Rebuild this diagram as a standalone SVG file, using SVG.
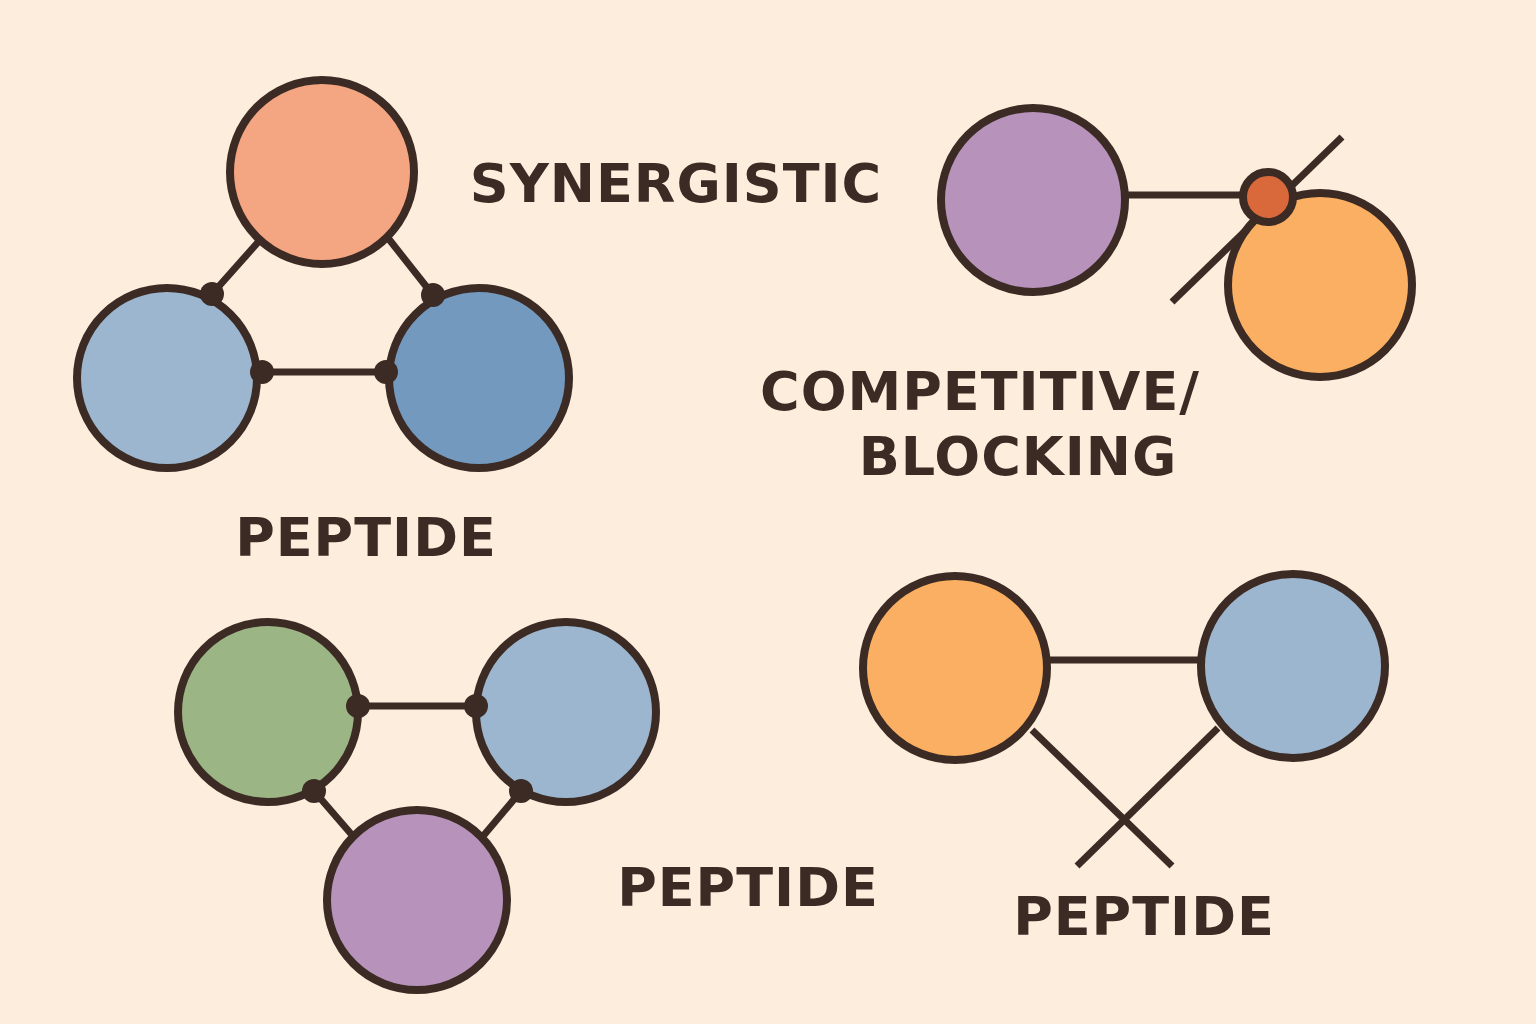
<svg xmlns="http://www.w3.org/2000/svg" width="1536" height="1024" viewBox="0 0 1536 1024">
<style>
.n{stroke:#3B2B24;stroke-width:8}
.c{stroke:#3B2B24;stroke-width:7;fill:none}
.d{fill:#3B2B24}
.t{font-family:"DejaVu Sans","Liberation Sans",sans-serif;font-weight:bold;font-size:54px;fill:#3B2B24;text-anchor:middle;letter-spacing:1px}
</style>
<rect width="1536" height="1024" fill="#FCEDDC"/>
<g id="connectors">
<line class="c" x1="260" y1="240" x2="212" y2="294"/>
<line class="c" x1="388" y1="238" x2="433" y2="295"/>
<line class="c" x1="262" y1="372" x2="386" y2="372"/>
<line class="c" x1="1125" y1="195" x2="1245" y2="195"/>
<line class="c" x1="1172" y1="302" x2="1342" y2="137"/>
<line class="c" x1="358" y1="706" x2="476" y2="706"/>
<line class="c" x1="314" y1="791" x2="352" y2="835"/>
<line class="c" x1="521" y1="791" x2="484" y2="835"/>
<line class="c" x1="1047" y1="660" x2="1200" y2="660"/>
<line class="c" x1="1032" y1="730" x2="1172" y2="866"/>
<line class="c" x1="1218" y1="728" x2="1077" y2="866"/>
</g>
<g id="n1"><circle class="n" cx="322" cy="172" r="92" fill="#F4A582"/></g>
<g id="n2"><circle class="n" cx="167" cy="378" r="90" fill="#9CB6CF"/></g>
<g id="n3"><circle class="n" cx="479" cy="378" r="90" fill="#7499BE"/></g>
<g id="n4"><circle class="n" cx="1033" cy="200" r="92" fill="#B793BB"/></g>
<g id="n5"><circle class="n" cx="1320" cy="285" r="92" fill="#FBAF62"/></g>
<g id="n6"><circle class="n" cx="1268" cy="197" r="25" fill="#D9683A"/></g>
<g id="n7"><circle class="n" cx="268" cy="712" r="90" fill="#9CB584"/></g>
<g id="n8"><circle class="n" cx="566" cy="712" r="90" fill="#9CB6CF"/></g>
<g id="n9"><circle class="n" cx="417" cy="900" r="90" fill="#B793BB"/></g>
<g id="n10"><circle class="n" cx="955" cy="668" r="92" fill="#FBAF62"/></g>
<g id="n11"><circle class="n" cx="1293" cy="666" r="92" fill="#9CB6CF"/></g>
<g id="dots">
<circle class="d" cx="212" cy="294" r="12"/><circle class="d" cx="433" cy="295" r="12"/>
<circle class="d" cx="262" cy="372" r="12"/><circle class="d" cx="386" cy="372" r="12"/>
<circle class="d" cx="358" cy="706" r="12"/><circle class="d" cx="476" cy="706" r="12"/>
<circle class="d" cx="314" cy="791" r="12"/><circle class="d" cx="521" cy="791" r="12"/>
</g>
<g id="labels">
<text class="t" x="676" y="202">SYNERGISTIC</text>
<text class="t" x="366" y="556">PEPTIDE</text>
<text class="t" x="980" y="410">COMPETITIVE/</text>
<text class="t" x="1018" y="475">BLOCKING</text>
<text class="t" x="748" y="906">PEPTIDE</text>
<text class="t" x="1144" y="935">PEPTIDE</text>
</g>
</svg>
